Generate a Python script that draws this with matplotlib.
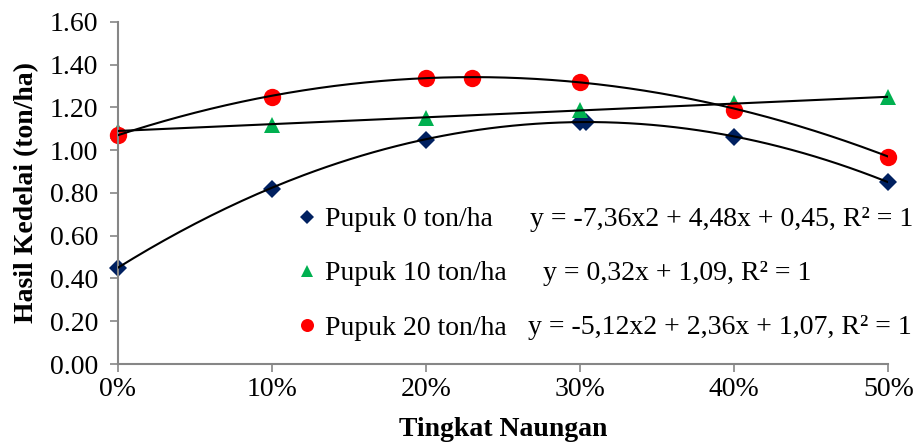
import numpy as np
import matplotlib
matplotlib.use('Agg')
from matplotlib import pyplot as plt
from matplotlib.ticker import FuncFormatter, MultipleLocator

# shade level as fraction (0.5 = 50%), yield in ton/ha
x_p0 = [0.0, 0.1, 0.2, 0.3, 0.304, 0.4, 0.5]
y_p0 = [0.45, 0.82, 1.05, 1.13, 1.13, 1.06, 0.85]

x_p10 = [0.0, 0.1, 0.2, 0.3, 0.4, 0.5]
y_p10 = [1.09, 1.12, 1.15, 1.19, 1.22, 1.25]

x_p20 = [0.0, 0.1, 0.2, 0.23, 0.3, 0.4, 0.5]
y_p20 = [1.07, 1.25, 1.34, 1.34, 1.32, 1.19, 0.97]

names = ['Pupuk 0 ton/ha', 'Pupuk 10 ton/ha', 'Pupuk 20 ton/ha']
equations = ['y = -7,36x2 + 4,48x + 0,45, R\u00b2 = 1',
             'y = 0,32x + 1,09, R\u00b2 = 1',
             'y = -5,12x2 + 2,36x + 1,07, R\u00b2 = 1']
# trendline coefficients (as given in the equations)
coef_p0 = [-7.36, 4.48, 0.45]
coef_p10 = [0.32, 1.09]
coef_p20 = [-5.12, 2.36, 1.07]

colors = ['#002060', '#00B050', '#FF0000']
markers = ['D', '^', 'o']
msizes = [9, 11, 12.5]

plt.rcParams['font.family'] = ['Liberation Serif', 'DejaVu Serif']
plt.rcParams['font.size'] = 20

fig = plt.figure(figsize=(9.13, 4.48), dpi=100)
ax = fig.add_axes([0.129, 0.1875, 0.844, 0.7635])

xx = np.linspace(0, 0.5, 200)
for coef in [coef_p0, coef_p10, coef_p20]:
    ax.plot(xx, np.polyval(coef, xx), color='black', lw=1.5, zorder=3)

handles = []
for xs, ys, c, m, ms, name in zip([x_p0, x_p10, x_p20], [y_p0, y_p10, y_p20],
                                  colors, markers, msizes, names):
    h, = ax.plot(xs, ys, linestyle='none', marker=m, color=c, ms=ms,
                 markeredgewidth=0, label=name, zorder=2, clip_on=False)
    handles.append(h)

ax.set_xlim(0, 0.5)
ax.set_ylim(0, 1.6)
ax.xaxis.set_major_locator(MultipleLocator(0.1))
ax.yaxis.set_major_locator(MultipleLocator(0.2))
ax.xaxis.set_major_formatter(FuncFormatter(lambda v, p: '{:.0f}%'.format(v * 100)))
ax.yaxis.set_major_formatter(FuncFormatter(lambda v, p: '{:.2f}'.format(v)))

for side in ['top', 'right']:
    ax.spines[side].set_visible(False)
for side in ['left', 'bottom']:
    ax.spines[side].set_color('#868686')
    ax.spines[side].set_linewidth(1.5)
ax.tick_params(colors='#868686', labelcolor='black', width=1.2, length=6,
               labelsize=20)
ax.tick_params(axis='x', pad=3)
ax.tick_params(axis='y', pad=8)

ax.set_xlabel('Tingkat Naungan', fontweight='bold', fontsize=20, labelpad=11)
ax.set_ylabel('Hasil Kedelai (ton/ha)', fontweight='bold', fontsize=20, labelpad=8)

leg = fig.legend(handles=handles, loc='upper left',
                 bbox_to_anchor=(299 / 913, 1 - 207 / 448),
                 frameon=False, handlelength=0.6, handletextpad=0.33,
                 labelspacing=1.03, fontsize=20, markerscale=0.75,
                 borderpad=0, borderaxespad=0)

eq_x = [530, 543, 528]
eq_y = [219, 273, 328]
for ex, ey, eq in zip(eq_x, eq_y, equations):
    fig.text(ex / 913, 1 - ey / 448, eq, fontsize=20, va='center', ha='left')

fig.savefig('out.png', dpi=100)
